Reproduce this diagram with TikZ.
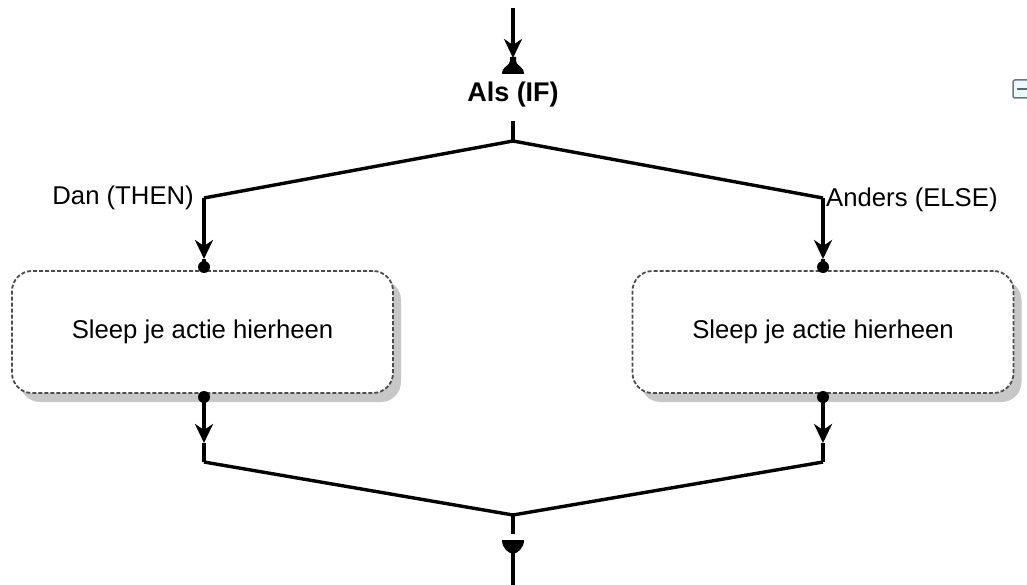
\documentclass[tikz,border=0pt]{standalone}
\usepackage{fontspec}
\setmainfont{Liberation Sans}
\usetikzlibrary{arrows.meta,shadows}
\begin{document}
\begin{tikzpicture}[x=1pt,y=-1pt,
  conn/.style={line width=3.4pt,black},
  arr/.style={-{Stealth[length=19pt,width=18pt,inset=6pt]}},
  dotmark/.style={fill=black},
  dropbox/.style={draw=black!70,dash pattern=on 4pt off 2pt,line width=1.8pt,
    rounded corners=20pt,fill=white,minimum width=381pt,minimum height=122pt,
    inner sep=0pt,font=\fontsize{25.7}{30}\selectfont,
    drop shadow={shadow xshift=8pt,shadow yshift=-9pt,fill=black!22,opacity=1}},
  lbl/.style={font=\fontsize{25.7}{30}\selectfont,inner sep=0pt}
]
\useasboundingbox (0,0) rectangle (1027,585);

% top incoming
\coordinate (tin) at (513,8);
\coordinate (ttip) at (513,58);
\draw[conn,arr] (tin) -- (ttip);
\fill (510,57) -- (510,61) .. controls (510,66) and (502,66) .. (502,74) -- (524,74) .. controls (524,66) and (516,66) .. (516,61) -- (516,57) -- cycle;

\node[lbl,font=\fontsize{27}{30}\selectfont\bfseries] (if) at (513,95) {Als (IF)};

\coordinate (stubtop) at (513,121);
\coordinate (split) at (513,141);
\coordinate (elbL) at (204,198);
\coordinate (elbR) at (823,198);
\draw[conn] (stubtop) -- (split);
\draw[conn,line join=miter] (elbL) -- (split) -- (elbR);

\node[lbl,anchor=east] (then) at (194,198) {Dan (THEN)};
\node[lbl,anchor=west] (else) at (826,200) {Anders (ELSE)};

% boxes
\node[dropbox] (boxL) at (202.5,332) {Sleep je actie hierheen};
\node[dropbox] (boxR) at (823,332) {Sleep je actie hierheen};

% left branch
\coordinate (tipL) at (204,259);
\coordinate (dotL) at (204,267);
\draw[conn,arr] (elbL) -- (tipL);
\draw[conn] (tipL) -- (dotL);
\fill[dotmark] (dotL) circle (6pt);

\coordinate (dotLb) at (204,397);
\coordinate (tipLb) at (204,443);
\coordinate (elbLb) at (204,462);
\fill[dotmark] (dotLb) circle (6pt);
\draw[conn,arr] (dotLb) -- (tipLb);
\draw[conn] (tipLb) -- (elbLb);

% right branch
\coordinate (tipR) at (823,259);
\coordinate (dotR) at (823,267);
\draw[conn,arr] (elbR) -- (tipR);
\draw[conn] (tipR) -- (dotR);
\fill[dotmark] (dotR) circle (6pt);

\coordinate (dotRb) at (823,397);
\coordinate (tipRb) at (823,443);
\coordinate (elbRb) at (823,462);
\fill[dotmark] (dotRb) circle (6pt);
\draw[conn,arr] (dotRb) -- (tipRb);
\draw[conn] (tipRb) -- (elbRb);

% join
\coordinate (join) at (513,515);
\coordinate (stubbot) at (513,534);
\draw[conn,line join=miter] (elbLb) -- (join) -- (elbRb);
\draw[conn] (join) -- (stubbot);
\fill (502,540) -- (524,540) .. controls (524,548) and (518,553) .. (513,554) .. controls (508,553) and (502,548) .. (502,540) -- cycle;
\coordinate (bout) at (513,585);
\draw[conn] (513,550) -- (bout);

% collapse icon (cut at the edge)
\draw[draw=black!55,line width=1.5pt,fill=cyan!8,rounded corners=2pt] (1013,80) rectangle (1035,98);
\draw[black!60,line width=2pt] (1017,89) -- (1027,89);
\end{tikzpicture}
\end{document}
